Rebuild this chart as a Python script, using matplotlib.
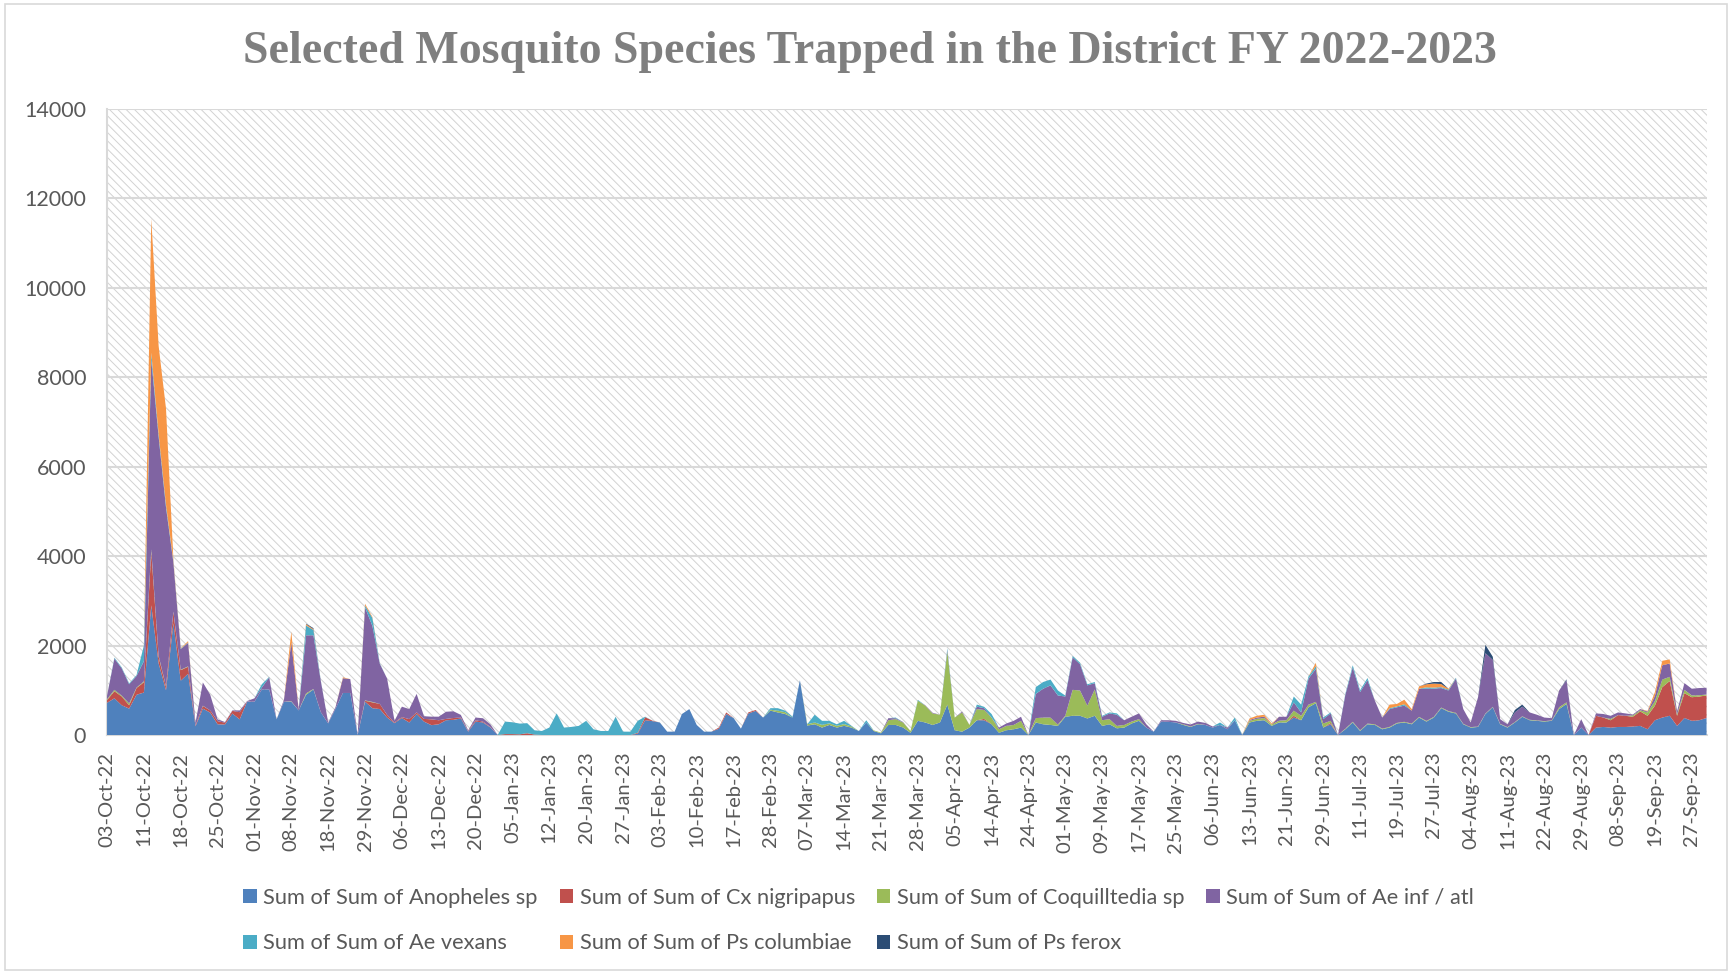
import matplotlib
matplotlib.use("Agg")
import matplotlib.pyplot as plt
from matplotlib.patches import Rectangle

plt.rcParams['font.family'] = ['Lato', 'DejaVu Sans']
plt.rcParams['hatch.linewidth'] = 0.7

# Week tick labels (every 5th trap date)
tick_labels = [
    "03-Oct-22", "11-Oct-22", "18-Oct-22", "25-Oct-22", "01-Nov-22", "08-Nov-22",
    "18-Nov-22", "29-Nov-22", "06-Dec-22", "13-Dec-22", "20-Dec-22", "05-Jan-23",
    "12-Jan-23", "20-Jan-23", "27-Jan-23", "03-Feb-23", "10-Feb-23", "17-Feb-23",
    "28-Feb-23", "07-Mar-23", "14-Mar-23", "21-Mar-23", "28-Mar-23", "05-Apr-23",
    "14-Apr-23", "24-Apr-23", "01-May-23", "09-May-23", "17-May-23", "25-May-23",
    "06-Jun-23", "13-Jun-23", "21-Jun-23", "29-Jun-23", "11-Jul-23", "19-Jul-23",
    "27-Jul-23", "04-Aug-23", "11-Aug-23", "22-Aug-23", "29-Aug-23", "08-Sep-23",
    "19-Sep-23", "27-Sep-23",
]
label_step = 5

series_names = [
    "Sum of Sum of Anopheles sp", "Sum of Sum of Cx nigripapus",
    "Sum of Sum of Coquilltedia sp", "Sum of Sum of Ae inf / atl",
    "Sum of Sum of Ae vexans", "Sum of Sum of Ps columbiae",
    "Sum of Sum of Ps ferox",
]

anopheles = [
    720, 820, 665, 590, 900, 950, 2900, 1600, 1000, 2500,
    1215, 1370, 195, 590, 500, 240, 235, 480, 350, 745,
    745, 1020, 1020, 350, 745, 745, 550, 900, 1020, 510,
    260, 590, 940, 940, 0, 745, 600, 580, 390, 265,
    380, 280, 470, 300, 220, 240, 330, 340, 370, 75,
    300, 280, 170, 0, 0, 0, 0, 0, 0, 0,
    0, 0, 0, 0, 0, 0, 0, 0, 0, 0,
    0, 0, 30, 330, 310, 280, 75, 75, 470, 580,
    225, 75, 75, 140, 470, 380, 143, 480, 540, 390,
    545, 505, 470, 390, 1225, 210, 240, 166, 225, 166,
    204, 166, 90, 280, 90, 38, 225, 225, 166, 50,
    317, 280, 225, 280, 680, 106, 75, 166, 330, 330,
    240, 50, 106, 128, 166, 0, 280, 240, 225, 204,
    408, 430, 430, 370, 430, 204, 240, 150, 166, 257,
    317, 166, 75, 300, 295, 280, 225, 180, 240, 225,
    166, 225, 128, 330, 0, 280, 317, 330, 204, 280,
    280, 390, 330, 620, 710, 166, 240, 0, 128, 280,
    90, 240, 225, 128, 166, 257, 280, 240, 390, 300,
    390, 600, 520, 480, 240, 166, 180, 470, 620, 240,
    166, 280, 408, 330, 317, 300, 317, 580, 695, 0,
    166, 0, 166, 180, 166, 180, 180, 190, 204, 128,
    330, 390, 430, 204, 380, 317, 330, 380,
]

cx_nigripapus = [
    60, 160, 195, 75, 150, 230, 1200, 150, 80, 250,
    235, 155, 20, 60, 50, 70, 40, 60, 160, 5,
    0, 0, 0, 0, 0, 0, 0, 0, 0, 0,
    0, 0, 0, 0, 0, 20, 130, 115, 60, 15,
    20, 75, 35, 60, 130, 90, 30, 40, 20, 10,
    30, 20, 10, 0, 20, 20, 15, 40, 10, 0,
    0, 0, 0, 0, 0, 0, 0, 0, 0, 0,
    0, 0, 20, 70, 10, 0, 0, 0, 0, 0,
    0, 0, 0, 26, 35, 0, 0, 25, 20, 0,
    0, 0, 0, 0, 0, 0, 0, 0, 0, 0,
    0, 0, 0, 0, 0, 0, 0, 0, 0, 0,
    0, 0, 0, 0, 0, 0, 0, 0, 0, 30,
    0, 0, 0, 0, 0, 0, 0, 0, 0, 0,
    0, 0, 0, 0, 0, 0, 0, 0, 0, 0,
    0, 0, 0, 0, 0, 0, 0, 0, 0, 0,
    0, 0, 0, 0, 0, 0, 0, 0, 0, 0,
    0, 40, 0, 0, 0, 0, 30, 0, 0, 0,
    0, 0, 0, 0, 0, 0, 0, 0, 0, 0,
    0, 0, 0, 0, 0, 0, 0, 0, 0, 0,
    0, 0, 0, 0, 0, 0, 0, 0, 0, 0,
    0, 0, 264, 210, 164, 265, 250, 218, 324, 302,
    327, 680, 778, 226, 555, 528, 530, 505,
]

coquillettidia = [
    20, 30, 20, 40, 10, 20, 50, 20, 10, 10,
    10, 10, 0, 5, 0, 0, 0, 0, 0, 0,
    0, 0, 0, 0, 0, 10, 0, 30, 10, 0,
    0, 0, 0, 0, 0, 10, 10, 0, 0, 0,
    0, 0, 0, 0, 0, 0, 0, 0, 0, 0,
    0, 0, 0, 0, 0, 0, 0, 0, 0, 0,
    0, 0, 0, 0, 0, 0, 0, 0, 0, 0,
    0, 0, 0, 0, 0, 0, 0, 0, 0, 0,
    0, 0, 0, 0, 0, 0, 0, 0, 0, 0,
    20, 40, 40, 0, 0, 30, 40, 60, 35, 40,
    40, 25, 0, 0, 15, 15, 105, 130, 114, 40,
    450, 377, 258, 173, 1185, 284, 430, 59, 250, 200,
    150, 78, 98, 97, 151, 0, 97, 150, 165, 30,
    22, 580, 565, 287, 590, 126, 115, 54, 59, 43,
    38, 0, 0, 0, 0, 0, 15, 10, 10, 0,
    0, 0, 0, 0, 0, 37, 45, 50, 30, 40,
    50, 115, 100, 60, 30, 91, 47, 0, 15, 15,
    15, 15, 15, 15, 15, 15, 15, 15, 15, 15,
    15, 15, 15, 15, 10, 10, 10, 10, 10, 10,
    10, 10, 10, 10, 10, 10, 10, 40, 35, 0,
    0, 0, 0, 0, 30, 0, 0, 30, 25, 75,
    100, 170, 92, 30, 75, 40, 30, 20,
]

ae_inf_atl = [
    80, 700, 610, 430, 260, 450, 4250, 4900, 4000, 1100,
    460, 525, 60, 520, 350, 40, 15, 10, 40, 10,
    75, 40, 270, 0, 40, 1320, 20, 1300, 1200, 700,
    20, 35, 330, 310, 0, 2080, 1700, 900, 810, 40,
    234, 225, 415, 60, 60, 80, 160, 150, 60, 20,
    60, 75, 60, 0, 0, 0, 0, 0, 0, 0,
    0, 0, 0, 0, 0, 0, 0, 0, 0, 0,
    0, 0, 0, 0, 0, 0, 0, 0, 0, 0,
    0, 0, 0, 0, 0, 0, 0, 0, 0, 0,
    0, 0, 0, 0, 0, 0, 0, 0, 0, 0,
    0, 0, 0, 0, 0, 0, 47, 20, 10, 0,
    0, 10, 15, 0, 35, 0, 20, 0, 54, 40,
    0, 38, 53, 92, 91, 0, 543, 645, 720, 650,
    430, 727, 590, 453, 140, 78, 128, 249, 105, 108,
    128, 74, 0, 30, 35, 37, 30, 45, 50, 45,
    24, 0, 38, 0, 0, 20, 28, 30, 0, 88,
    78, 185, 75, 580, 740, 98, 166, 0, 755, 1215,
    855, 970, 530, 247, 399, 348, 362, 290, 630, 720,
    630, 435, 460, 765, 330, 104, 655, 1350, 1050, 105,
    64, 215, 216, 165, 126, 80, 50, 375, 495, 0,
    189, 0, 53, 80, 70, 60, 53, 20, 27, 20,
    120, 320, 300, 68, 150, 150, 160, 152,
]

ae_vexans = [
    0, 20, 20, 20, 20, 350, 150, 60, 60, 30,
    10, 10, 0, 0, 0, 0, 0, 0, 0, 0,
    0, 75, 10, 0, 0, 0, 0, 220, 120, 10,
    0, 0, 0, 0, 0, 40, 180, 10, 0, 0,
    0, 0, 0, 0, 0, 0, 0, 0, 0, 0,
    0, 0, 0, 0, 280, 265, 240, 225, 95, 90,
    166, 483, 166, 181, 204, 317, 128, 90, 90, 408,
    75, 75, 267, 10, 0, 0, 0, 0, 0, 0,
    0, 0, 0, 0, 0, 0, 0, 0, 0, 0,
    35, 55, 35, 20, 0, 0, 173, 91, 57, 34,
    73, 13, 0, 50, 0, 0, 0, 15, 0, 0,
    18, 0, 0, 0, 40, 0, 0, 0, 46, 30,
    80, 0, 0, 0, 0, 0, 150, 150, 130, 110,
    23, 30, 30, 25, 25, 20, 22, 30, 0, 0,
    0, 0, 0, 0, 0, 0, 0, 0, 0, 0,
    0, 55, 0, 60, 0, 0, 0, 0, 0, 0,
    0, 130, 175, 50, 60, 35, 22, 0, 25, 50,
    40, 50, 0, 0, 20, 20, 30, 0, 0, 30,
    25, 20, 20, 20, 0, 0, 0, 0, 0, 0,
    0, 0, 0, 0, 0, 0, 0, 0, 0, 0,
    0, 0, 0, 0, 0, 0, 0, 0, 0, 0,
    0, 0, 0, 0, 0, 0, 0, 0,
]

ps_columbiae = [
    0, 0, 0, 0, 0, 0, 3000, 1970, 2150, 50,
    10, 30, 0, 0, 0, 0, 0, 0, 0, 0,
    0, 0, 0, 0, 0, 235, 0, 30, 20, 0,
    0, 0, 20, 0, 0, 40, 20, 0, 0, 0,
    0, 0, 0, 0, 0, 0, 0, 0, 0, 0,
    0, 0, 0, 0, 0, 0, 0, 0, 0, 0,
    0, 0, 0, 0, 0, 0, 0, 0, 0, 0,
    0, 0, 0, 0, 0, 0, 0, 0, 0, 0,
    0, 0, 0, 0, 0, 0, 0, 0, 0, 0,
    0, 0, 0, 0, 0, 0, 0, 0, 0, 0,
    0, 0, 0, 0, 0, 0, 0, 0, 0, 0,
    0, 0, 0, 0, 0, 0, 0, 0, 0, 0,
    0, 0, 0, 0, 0, 0, 0, 0, 0, 0,
    0, 0, 0, 0, 0, 0, 0, 0, 0, 0,
    0, 0, 0, 0, 0, 0, 0, 0, 0, 0,
    0, 0, 0, 0, 0, 33, 40, 43, 23, 0,
    0, 0, 0, 0, 75, 0, 0, 0, 0, 0,
    0, 0, 0, 0, 80, 55, 103, 35, 52, 70,
    90, 70, 20, 0, 0, 0, 0, 0, 0, 0,
    0, 0, 0, 0, 0, 0, 0, 0, 0, 0,
    0, 0, 0, 0, 0, 0, 0, 0, 0, 15,
    83, 100, 90, 0, 0, 0, 0, 0,
]

ps_ferox = [
    0, 0, 0, 0, 0, 0, 0, 0, 0, 0,
    0, 0, 0, 0, 0, 0, 0, 0, 0, 0,
    0, 0, 0, 0, 0, 0, 0, 10, 20, 0,
    0, 0, 0, 0, 0, 0, 0, 0, 0, 0,
    0, 0, 0, 0, 0, 0, 0, 0, 0, 0,
    0, 0, 0, 0, 0, 0, 0, 0, 0, 0,
    0, 0, 0, 0, 0, 0, 0, 0, 0, 0,
    0, 0, 0, 0, 0, 0, 0, 0, 0, 0,
    0, 0, 0, 0, 0, 0, 0, 0, 0, 0,
    0, 0, 0, 0, 0, 0, 0, 0, 0, 0,
    0, 0, 0, 0, 0, 0, 0, 0, 0, 0,
    0, 0, 0, 0, 0, 0, 0, 0, 0, 0,
    0, 0, 0, 0, 0, 0, 0, 0, 0, 0,
    0, 0, 0, 0, 0, 0, 0, 0, 0, 0,
    0, 0, 0, 0, 0, 0, 0, 0, 0, 0,
    0, 0, 0, 0, 0, 0, 0, 0, 0, 0,
    0, 0, 0, 0, 0, 0, 0, 0, 0, 0,
    0, 0, 0, 0, 0, 0, 0, 0, 0, 15,
    35, 45, 0, 0, 0, 0, 0, 185, 70, 0,
    0, 55, 46, 0, 0, 0, 0, 0, 20, 0,
    0, 0, 0, 0, 0, 0, 0, 0, 0, 0,
    0, 0, 0, 0, 0, 0, 0, 0,
]

series = [anopheles, cx_nigripapus, coquillettidia, ae_inf_atl,
          ae_vexans, ps_columbiae, ps_ferox]
colors = ["#4F81BD", "#C0504D", "#9BBB59", "#8064A2",
          "#4BACC6", "#F79646", "#2C4D75"]

n_points = len(anopheles)
for s in series:
    assert len(s) == n_points, len(s)
x = list(range(n_points))

text_color = "#595959"
grid_color = "#D9D9D9"

fig = plt.figure(figsize=(17.32, 9.73), dpi=100)
fig.patch.set_facecolor("white")

# thin chart-area border
fig.add_artist(Rectangle((0.003, 0.003), 0.994, 0.993, transform=fig.transFigure,
                         facecolor="none", edgecolor="#D9D9D9", linewidth=1.2))

ax = fig.add_axes([0.0618, 0.2446, 0.9235, 0.6434])

# hatched plot-area fill
ax.patch.set_facecolor("white")
ax.patch.set_hatch("\\\\\\\\")
ax.patch.set_edgecolor("#D2D2D2")

ax.stackplot(x, *series, colors=colors, labels=series_names, linewidth=0.4,
             zorder=3)

ax.set_xlim(0, n_points - 1)
ax.set_ylim(0, 14000)
ax.set_yticks(range(0, 14001, 2000))
ax.yaxis.grid(True, color=grid_color, linewidth=1.5, zorder=1)
ax.set_axisbelow(True)

ax.set_xticks(range(0, label_step * len(tick_labels), label_step))
ax.set_xticklabels(tick_labels, rotation=90)
ax.tick_params(axis="x", length=0, pad=12, labelsize=14.5, labelcolor=text_color)
ax.tick_params(axis="y", length=0, pad=15, labelsize=15.5, labelcolor=text_color)

for side in ("top", "right"):
    ax.spines[side].set_visible(False)
for side in ("left", "bottom"):
    ax.spines[side].set_color(grid_color)
    ax.spines[side].set_linewidth(1.5)

fig.text(0.502, 0.947, "Selected Mosquito Species Trapped in the District FY 2022-2023",
         ha="center", va="center", fontsize=33, fontweight="bold",
         family=["Liberation Serif", "DejaVu Serif"], color="#7F7F7F")

# legend filled row by row: 4 entries on the first row, 3 on the second
handles, labels = ax.get_legend_handles_labels()
order = [0, 4, 1, 5, 2, 6, 3]
fig.legend([handles[i] for i in order], [labels[i] for i in order],
           loc="upper left", bbox_to_anchor=(0.1405, 0.0875),
           ncol=4, frameon=False, fontsize=15.7, labelcolor=text_color,
           handlelength=0.62, handleheight=0.62, handletextpad=0.3,
           columnspacing=1.0, labelspacing=1.17, borderpad=0, borderaxespad=0)

fig.savefig("out.png", dpi=100, facecolor="white")
